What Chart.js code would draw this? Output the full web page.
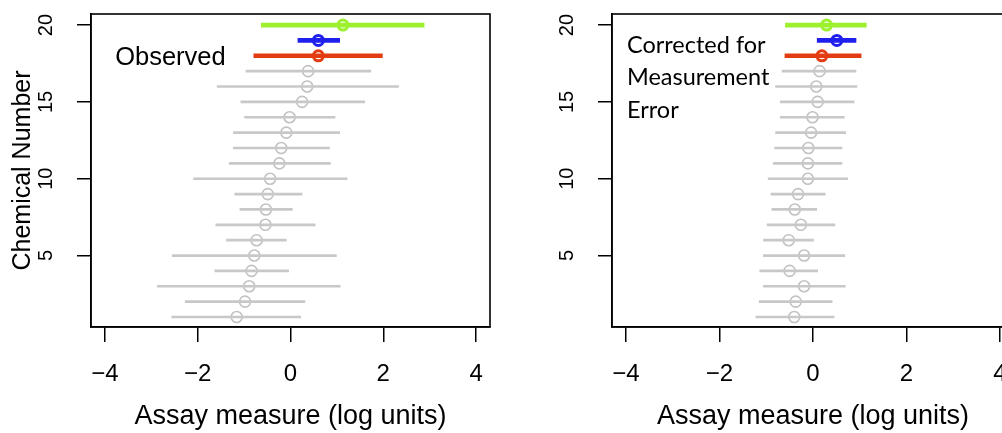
<!DOCTYPE html>
<html>
<head>
<meta charset="utf-8">
<script src="https://cdn.jsdelivr.net/npm/chart.js@4.4.1/dist/chart.umd.min.js"></script>
<style>
  html, body { margin: 0; padding: 0; background: #fff; overflow: hidden; }
  #wrap { position: relative; width: 1002px; height: 433px; overflow: hidden; }
  canvas { position: absolute; top: 0; }
</style>
</head>
<body>
<div id="wrap">
  <canvas id="observed" width="500" height="433" style="left:0"></canvas>
  <canvas id="corrected" width="500" height="433" style="left:521px"></canvas>
</div>
<script>
// chemical numbers (y) and axis ticks
const chemicals = [1, 2, 3, 4, 5, 6, 7, 8, 9, 10, 11, 12, 13, 14, 15, 16, 17, 18, 19, 20];
const xTicks = [-4, -2, 0, 2, 4];
const yTicks = [5, 10, 15, 20];

// observed estimates with interval ends
const obsMid = [-1.16, -0.98, -0.89, -0.84, -0.78, -0.73, -0.54, -0.53, -0.49, -0.44,
                -0.24, -0.20, -0.09, -0.02, 0.25, 0.36, 0.38, 0.60, 0.60, 1.13];
const obsLo  = [-2.56, -2.27, -2.87, -1.63, -2.55, -1.38, -1.61, -1.09, -1.20, -2.09,
                -1.32, -1.23, -1.23, -0.99, -1.07, -1.58, -0.96, -0.79, 0.16, -0.63];
const obsHi  = [0.22, 0.31, 1.07, -0.04, 0.99, -0.09, 0.53, 0.04, 0.25, 1.22,
                0.86, 0.84, 1.06, 0.96, 1.60, 2.33, 1.73, 1.98, 1.06, 2.88];

// corrected for measurement error
const corMid = [-0.40, -0.37, -0.19, -0.50, -0.19, -0.52, -0.26, -0.39, -0.32, -0.11,
                -0.11, -0.10, -0.04, -0.01, 0.10, 0.07, 0.14, 0.19, 0.51, 0.29];
const corLo  = [-1.22, -1.15, -1.06, -1.14, -1.06, -1.06, -0.98, -0.88, -0.90, -0.96,
                -0.85, -0.82, -0.80, -0.70, -0.70, -0.80, -0.66, -0.60, 0.09, -0.59];
const corHi  = [0.45, 0.41, 0.69, 0.10, 0.68, 0.01, 0.47, 0.08, 0.26, 0.74,
                0.62, 0.62, 0.70, 0.67, 0.88, 0.94, 0.92, 1.03, 0.92, 1.14];

// the last three chemicals are highlighted (18 red, 19 blue, 20 green)
const nGray = 17;
const highlightColors = ['#e33c12', '#2020ee', '#9cf02e'];
const grayLine = '#c8c8c8';
const grayPoint = '#c2c2c2';

const boxPlugin = {
  id: 'box',
  afterDatasetsDraw(chart) {
    const { ctx, chartArea: a } = chart;
    ctx.save();
    ctx.strokeStyle = '#000';
    ctx.lineWidth = 1.6;
    ctx.strokeRect(a.left, a.top, a.right - a.left, a.bottom - a.top);
    ctx.restore();
  }
};

const noteText = {
  id: 'noteText',
  afterDraw(chart, args, opts) {
    const { ctx, scales } = chart;
    ctx.save();
    ctx.fillStyle = '#000';
    ctx.font = opts.font;
    ctx.textAlign = 'left';
    ctx.textBaseline = 'middle';
    opts.lines.forEach((t, i) => {
      ctx.fillText(t, scales.x.getPixelForValue(opts.x), scales.y.getPixelForValue(opts.y - i * opts.step));
    });
    ctx.restore();
  }
};

function makePanel(id, mid, lo, hi, note, showTitle, padRight) {
  const gray = chemicals.slice(0, nGray);
  const hot = chemicals.slice(nGray);
  new Chart(document.getElementById(id), {
    type: 'bar',
    data: {
      datasets: [
        {
          type: 'bar',
          indexAxis: 'y',
          data: gray.map((c, i) => ({ x: [lo[i], hi[i]], y: c })),
          backgroundColor: grayLine,
          barThickness: 2,
          grouped: false
        },
        {
          type: 'bar',
          indexAxis: 'y',
          data: hot.map((c, i) => ({ x: [lo[nGray + i], hi[nGray + i]], y: c })),
          backgroundColor: highlightColors,
          barThickness: 4,
          grouped: false
        },
        {
          type: 'scatter',
          data: gray.map((c, i) => ({ x: mid[i], y: c })),
          pointRadius: 5.5,
          pointBorderWidth: 1.6,
          pointBorderColor: grayPoint,
          pointBackgroundColor: 'rgba(0,0,0,0)',
          showLine: false
        },
        {
          type: 'scatter',
          data: hot.map((c, i) => ({ x: mid[nGray + i], y: c })),
          pointRadius: 5,
          pointBorderWidth: 3,
          pointBorderColor: highlightColors,
          pointBackgroundColor: 'rgba(0,0,0,0)',
          showLine: false
        }
      ]
    },
    options: {
      responsive: false,
      animation: false,
      layout: { autoPadding: false, padding: { top: 14, right: padRight, bottom: 0, left: 0 } },
      plugins: {
        legend: { display: false },
        tooltip: { enabled: false },
        noteText: note
      },
      scales: {
        x: {
          type: 'linear',
          min: -4.3,
          max: 4.3,
          offset: false,
          afterBuildTicks: s => { s.ticks = xTicks.map(v => ({ value: v })); },
          afterFit: s => { s.height = 106; s.paddingLeft = 0; s.paddingRight = 0; },
          ticks: {
            color: '#000',
            padding: 18,
            font: { family: 'Liberation Sans', size: 24 },
            callback: v => v < 0 ? '\u2212' + Math.abs(v) : String(v)
          },
          grid: { offset: false, drawOnChartArea: false, tickLength: 15, color: '#000', lineWidth: 1.5 },
          border: { display: true, color: '#000', width: 1.5 },
          title: {
            display: true,
            text: 'Assay measure (log units)',
            color: '#000',
            font: { family: 'Liberation Sans', size: 27 },
            padding: { top: 0, bottom: 0 }
          }
        },
        y: {
          type: 'linear',
          min: 0.35,
          max: 20.72,
          offset: false,
          beginAtZero: false,
          afterBuildTicks: s => { s.ticks = yTicks.map(v => ({ value: v })); },
          afterFit: s => { s.width = 91; s.paddingTop = 0; s.paddingBottom = 0; },
          ticks: {
            color: '#000',
            minRotation: 90,
            maxRotation: 90,
            crossAlign: 'center',
            padding: 19,
            font: { family: 'Liberation Sans', size: 20 }
          },
          grid: { offset: false, drawOnChartArea: false, tickLength: 14, color: '#000', lineWidth: 1.5 },
          border: { display: true, color: '#000', width: 1.5 },
          title: {
            display: showTitle,
            text: 'Chemical Number',
            color: '#000',
            font: { family: 'Liberation Sans', size: 25 },
            padding: { top: 8, bottom: 0 }
          }
        }
      }
    },
    plugins: [boxPlugin, noteText]
  });
}

makePanel('observed', obsMid, obsLo, obsHi,
  { lines: ['Observed'], x: -3.78, y: 17.86, step: 0, font: '25.5px "Liberation Sans"' },
  true, 10);
makePanel('corrected', corMid, corLo, corHi,
  { lines: ['Corrected for', 'Measurement', 'Error'], x: -3.98, y: 18.7, step: 2.12, font: '23.5px Lato' },
  false, 7);
</script>
</body>
</html>
